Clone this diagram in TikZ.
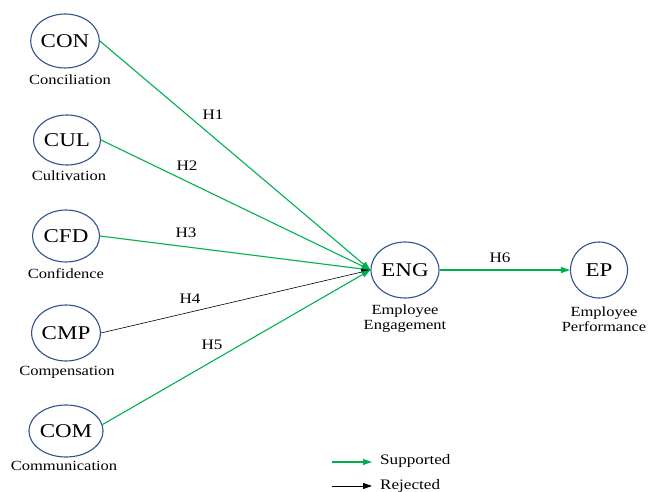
\documentclass[tikz,border=0pt]{standalone}
\usepackage{fontspec}
\setmainfont{Liberation Serif}
\newfontfamily\lblfont[FakeStretch=1.18]{Liberation Serif}
\usetikzlibrary{shapes.geometric,arrows.meta}
\definecolor{sup}{RGB}{0,176,80}
\definecolor{ell}{RGB}{47,82,143}
\tikzset{
  cst/.style={ellipse,draw=ell,line width=1.1pt,inner sep=0pt,font=\lblfont\fontsize{19.5}{20}\selectfont},
  lbl/.style={font=\lblfont\fontsize{14}{16}\selectfont,align=center,inner sep=0pt},
  hl/.style={font=\lblfont\fontsize{14.5}{16}\selectfont,inner sep=0pt},
  supp/.style={draw=sup,line width=1.1pt,-{Triangle[length=9pt,width=6pt]}},
  rej/.style={draw=black,line width=0.6pt,-{Triangle[length=9pt,width=6pt]}}
}
\begin{document}
\begin{tikzpicture}[x=1pt,y=-1pt]
\useasboundingbox (0,0) rectangle (648,492);
\node[cst,minimum width=66pt,minimum height=54pt] (con) at (65,41) {CON};
\node[cst,minimum width=67pt,minimum height=50pt] (cul) at (67,140) {CUL};
\node[cst,minimum width=67pt,minimum height=52pt] (cfd) at (66,236) {CFD};
\node[cst,minimum width=67pt,minimum height=56pt] (cmp) at (66,333) {CMP};
\node[cst,minimum width=68pt,minimum height=52pt] (com) at (66,431) {COM};
\node[cst,minimum width=68pt,minimum height=56pt] (eng) at (405,270) {ENG};
\node[cst,minimum width=57pt,minimum height=56pt] (ep) at (599,270) {EP};
\node[lbl] (lcon) at (70,80) {Conciliation};
\node[lbl] (lcul) at (69,176) {Cultivation};
\node[lbl] (lcfd) at (66,274) {Confidence};
\node[lbl] (lcmp) at (67,372) {Compensation};
\node[lbl] (lcom) at (64,466) {Communication};
\node[lbl] (leng) at (405,319) {Employee\\[-1pt]Engagement};
\node[lbl] (lep) at (604,319) {Employee\\[-1pt]Performance};
\draw[supp] (con.east) -- (eng.west);
\draw[supp] (cul.east) -- (eng.west);
\draw[supp] (cfd.east) -- (eng.west);
\draw[rej] (cmp.east) -- (eng.west);
\draw[supp] (com.10) -- (eng.west);
\draw[supp] (eng.east) -- (ep.west);
\node[hl] (h1) at (213,115) {H1};
\node[hl] (h2) at (187,166) {H2};
\node[hl] (h3) at (186,233) {H3};
\node[hl] (h4) at (190,299) {H4};
\node[hl] (h5) at (212,345) {H5};
\node[hl] (h6) at (500,258) {H6};
\coordinate (s1) at (332,462);
\coordinate (s2) at (372,462);
\coordinate (r1) at (332,486);
\coordinate (r2) at (372,486);
\draw[supp] (s1) -- (s2);
\draw[rej,line width=0.9pt] (r1) -- (r2);
\node[hl,anchor=west] (ls) at (380,461) {Supported};
\node[hl,anchor=west] (lr) at (380,486) {Rejected};
\end{tikzpicture}
\end{document}
